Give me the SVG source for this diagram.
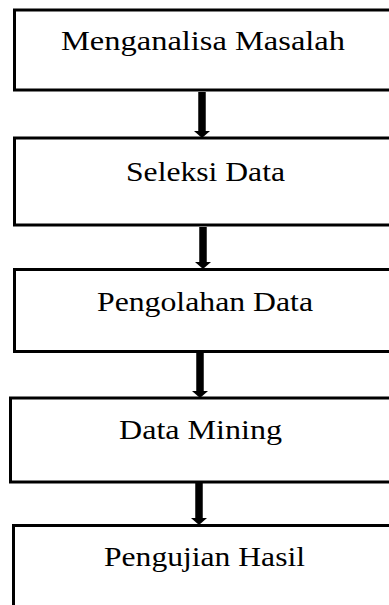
<svg xmlns="http://www.w3.org/2000/svg" width="389" height="605" viewBox="0 0 389 605">
<style>
.box{fill:#fff;stroke:#000;stroke-width:3}
.lbl{font-family:"Liberation Serif","Times New Roman",serif;font-size:28px;fill:#000}
.conn{stroke:#000;stroke-width:7.5;fill:none}
</style>
<defs>
<marker id="ah" markerUnits="userSpaceOnUse" viewBox="0 0 7 16" markerWidth="7" markerHeight="16" refX="0" refY="8" orient="auto">
<path d="M0,0 L7,8 L0,16 z" fill="#000"/>
</marker>
</defs>
<rect width="389" height="605" fill="#fff"/>
<g id="connectors">
<line class="conn" x1="202" y1="92" x2="202" y2="131" marker-end="url(#ah)"/>
<line class="conn" x1="203" y1="227" x2="203" y2="262" marker-end="url(#ah)"/>
<line class="conn" x1="200" y1="353" x2="200" y2="391" marker-end="url(#ah)"/>
<line class="conn" x1="199" y1="483" x2="199" y2="518" marker-end="url(#ah)"/>
</g>
<g id="n1">
<rect class="box" x="14.5" y="10" width="400" height="80"/>
<text class="lbl" x="61" y="50" textLength="284" lengthAdjust="spacingAndGlyphs">Menganalisa Masalah</text>
</g>
<g id="n2">
<rect class="box" x="14.5" y="138" width="400" height="87"/>
<text class="lbl" x="126" y="181" textLength="159" lengthAdjust="spacingAndGlyphs">Seleksi Data</text>
</g>
<g id="n3">
<rect class="box" x="14.5" y="269.5" width="400" height="82"/>
<text class="lbl" x="97" y="311" textLength="216" lengthAdjust="spacingAndGlyphs">Pengolahan Data</text>
</g>
<g id="n4">
<rect class="box" x="10.5" y="398" width="400" height="84"/>
<text class="lbl" x="119" y="439" textLength="163" lengthAdjust="spacingAndGlyphs">Data Mining</text>
</g>
<g id="n5">
<rect class="box" x="13.5" y="525.5" width="400" height="100"/>
<text class="lbl" x="104" y="566" textLength="201" lengthAdjust="spacingAndGlyphs">Pengujian Hasil</text>
</g>
</svg>
